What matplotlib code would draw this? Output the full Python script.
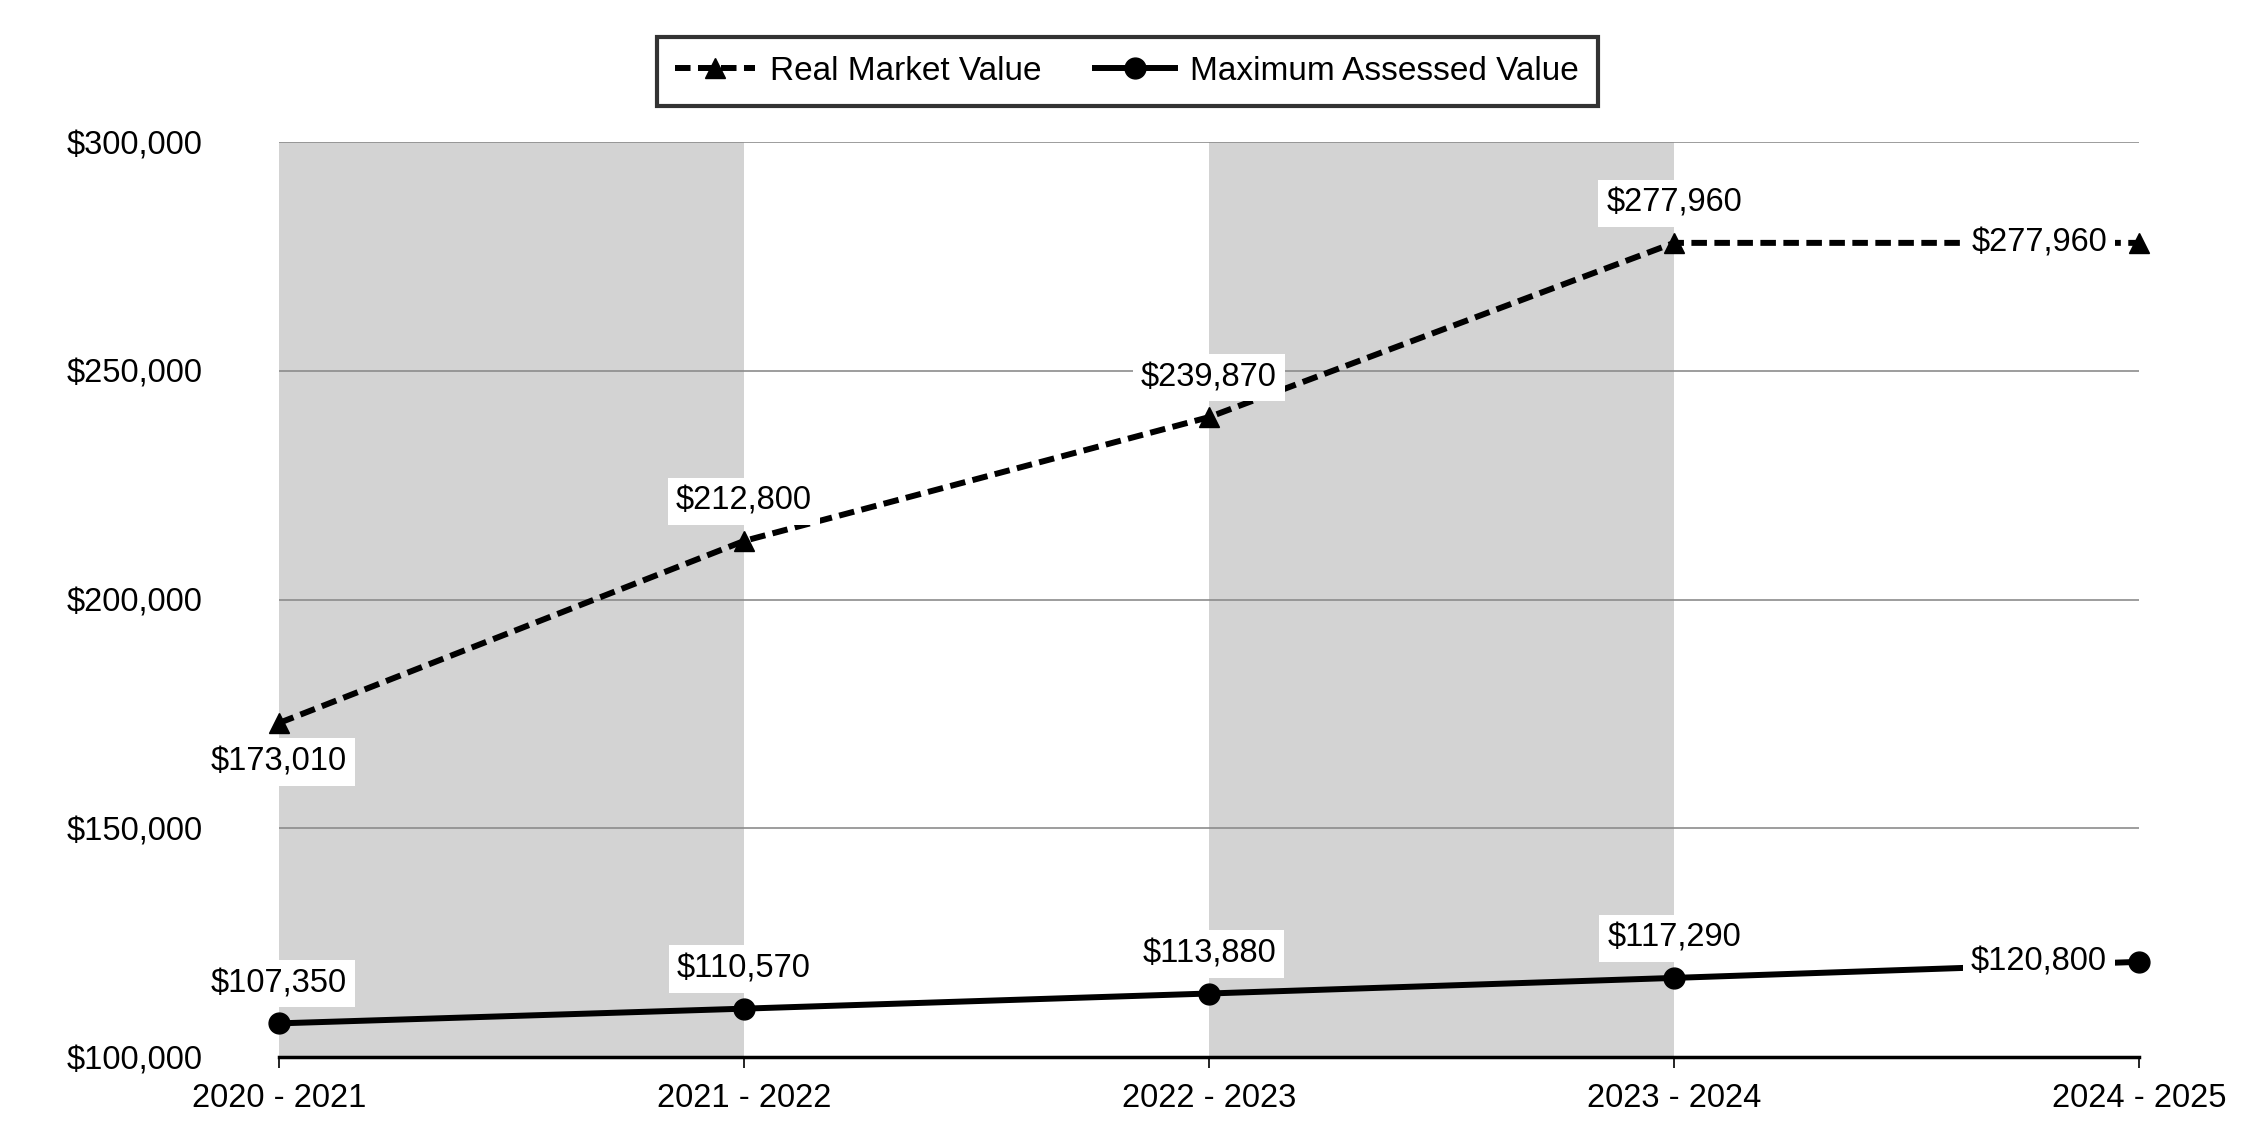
import matplotlib.pyplot as plt
from matplotlib.ticker import FuncFormatter

plt.rcParams['font.family'] = ['Liberation Sans', 'DejaVu Sans']

# values
years = ["2020 - 2021", "2021 - 2022", "2022 - 2023", "2023 - 2024", "2024 - 2025"]
real_market = [173010, 212800, 239870, 277960, 277960]
max_assessed = [107350, 110570, 113880, 117290, 120800]
y_ticks = [100000, 150000, 200000, 250000, 300000]

x = list(range(len(years)))

fig = plt.figure(figsize=(22.5, 11.4), dpi=100)
ax = fig.add_axes([0.1240, 0.0728, 0.8267, 0.8026])

# alternating grey bands
for i in range(0, len(years) - 1, 2):
    ax.axvspan(x[i], x[i + 1], color='#d3d3d3', zorder=0, lw=0)

ax.set_xlim(x[0], x[-1])
ax.set_ylim(100000, 300000)
ax.set_yticks(y_ticks)
ax.yaxis.set_major_formatter(FuncFormatter(lambda v, p: f"${v:,.0f}"))
ax.set_xticks(x)
ax.set_xticklabels(years)

ax.grid(axis='y', color='#8c8c8c', lw=1.2, zorder=1)
for s in ['top', 'right', 'left']:
    ax.spines[s].set_visible(False)
ax.spines['bottom'].set_linewidth(2.5)
ax.spines['bottom'].set_zorder(3)
ax.tick_params(axis='y', length=0, pad=55, labelsize=23.5)
ax.tick_params(axis='x', length=8, width=1.2, pad=11, labelsize=23.5)

ax.plot(x, real_market, color='black', lw=4.3, linestyle=(0, (2.6, 1.25)),
        marker='^', markersize=15, label='Real Market Value', zorder=4, clip_on=False)
ax.plot(x, max_assessed, color='black', lw=4.3, marker='o', markersize=15,
        label='Maximum Assessed Value', zorder=4, clip_on=False)

box = dict(boxstyle='square,pad=0.25', fc='white', ec='none')


def label(xi, yi, where):
    txt = f"${yi:,.0f}"
    if where == 'above':
        ax.annotate(txt, (xi, yi), xytext=(0, 28.5), textcoords='offset points',
                    ha='center', va='center', fontsize=23.5, bbox=box, zorder=5)
    elif where == 'below':
        ax.annotate(txt, (xi, yi), xytext=(0, -28), textcoords='offset points',
                    ha='center', va='center', fontsize=23.5, bbox=box, zorder=5)
    else:
        ax.annotate(txt, (xi, yi), xytext=(-23, 0), textcoords='offset points',
                    ha='right', va='center', fontsize=23.5, bbox=box, zorder=5)


for i, v in enumerate(real_market):
    if i == 0:
        label(x[i], v, 'below')
    elif i == len(x) - 1:
        label(x[i], v, 'left')
    else:
        label(x[i], v, 'above')

for i, v in enumerate(max_assessed):
    if i == len(x) - 1:
        label(x[i], v, 'left')
    else:
        label(x[i], v, 'above')

leg = fig.legend(loc='center', bbox_to_anchor=(0.501, 0.9373), ncol=2, fontsize=24,
                 frameon=True, fancybox=False, edgecolor='black', handlelength=2.4,
                 columnspacing=1.6, handletextpad=0.45, borderpad=0.56)
leg.get_frame().set_linewidth(3)

fig.savefig('out.png', dpi=100, facecolor='white')
